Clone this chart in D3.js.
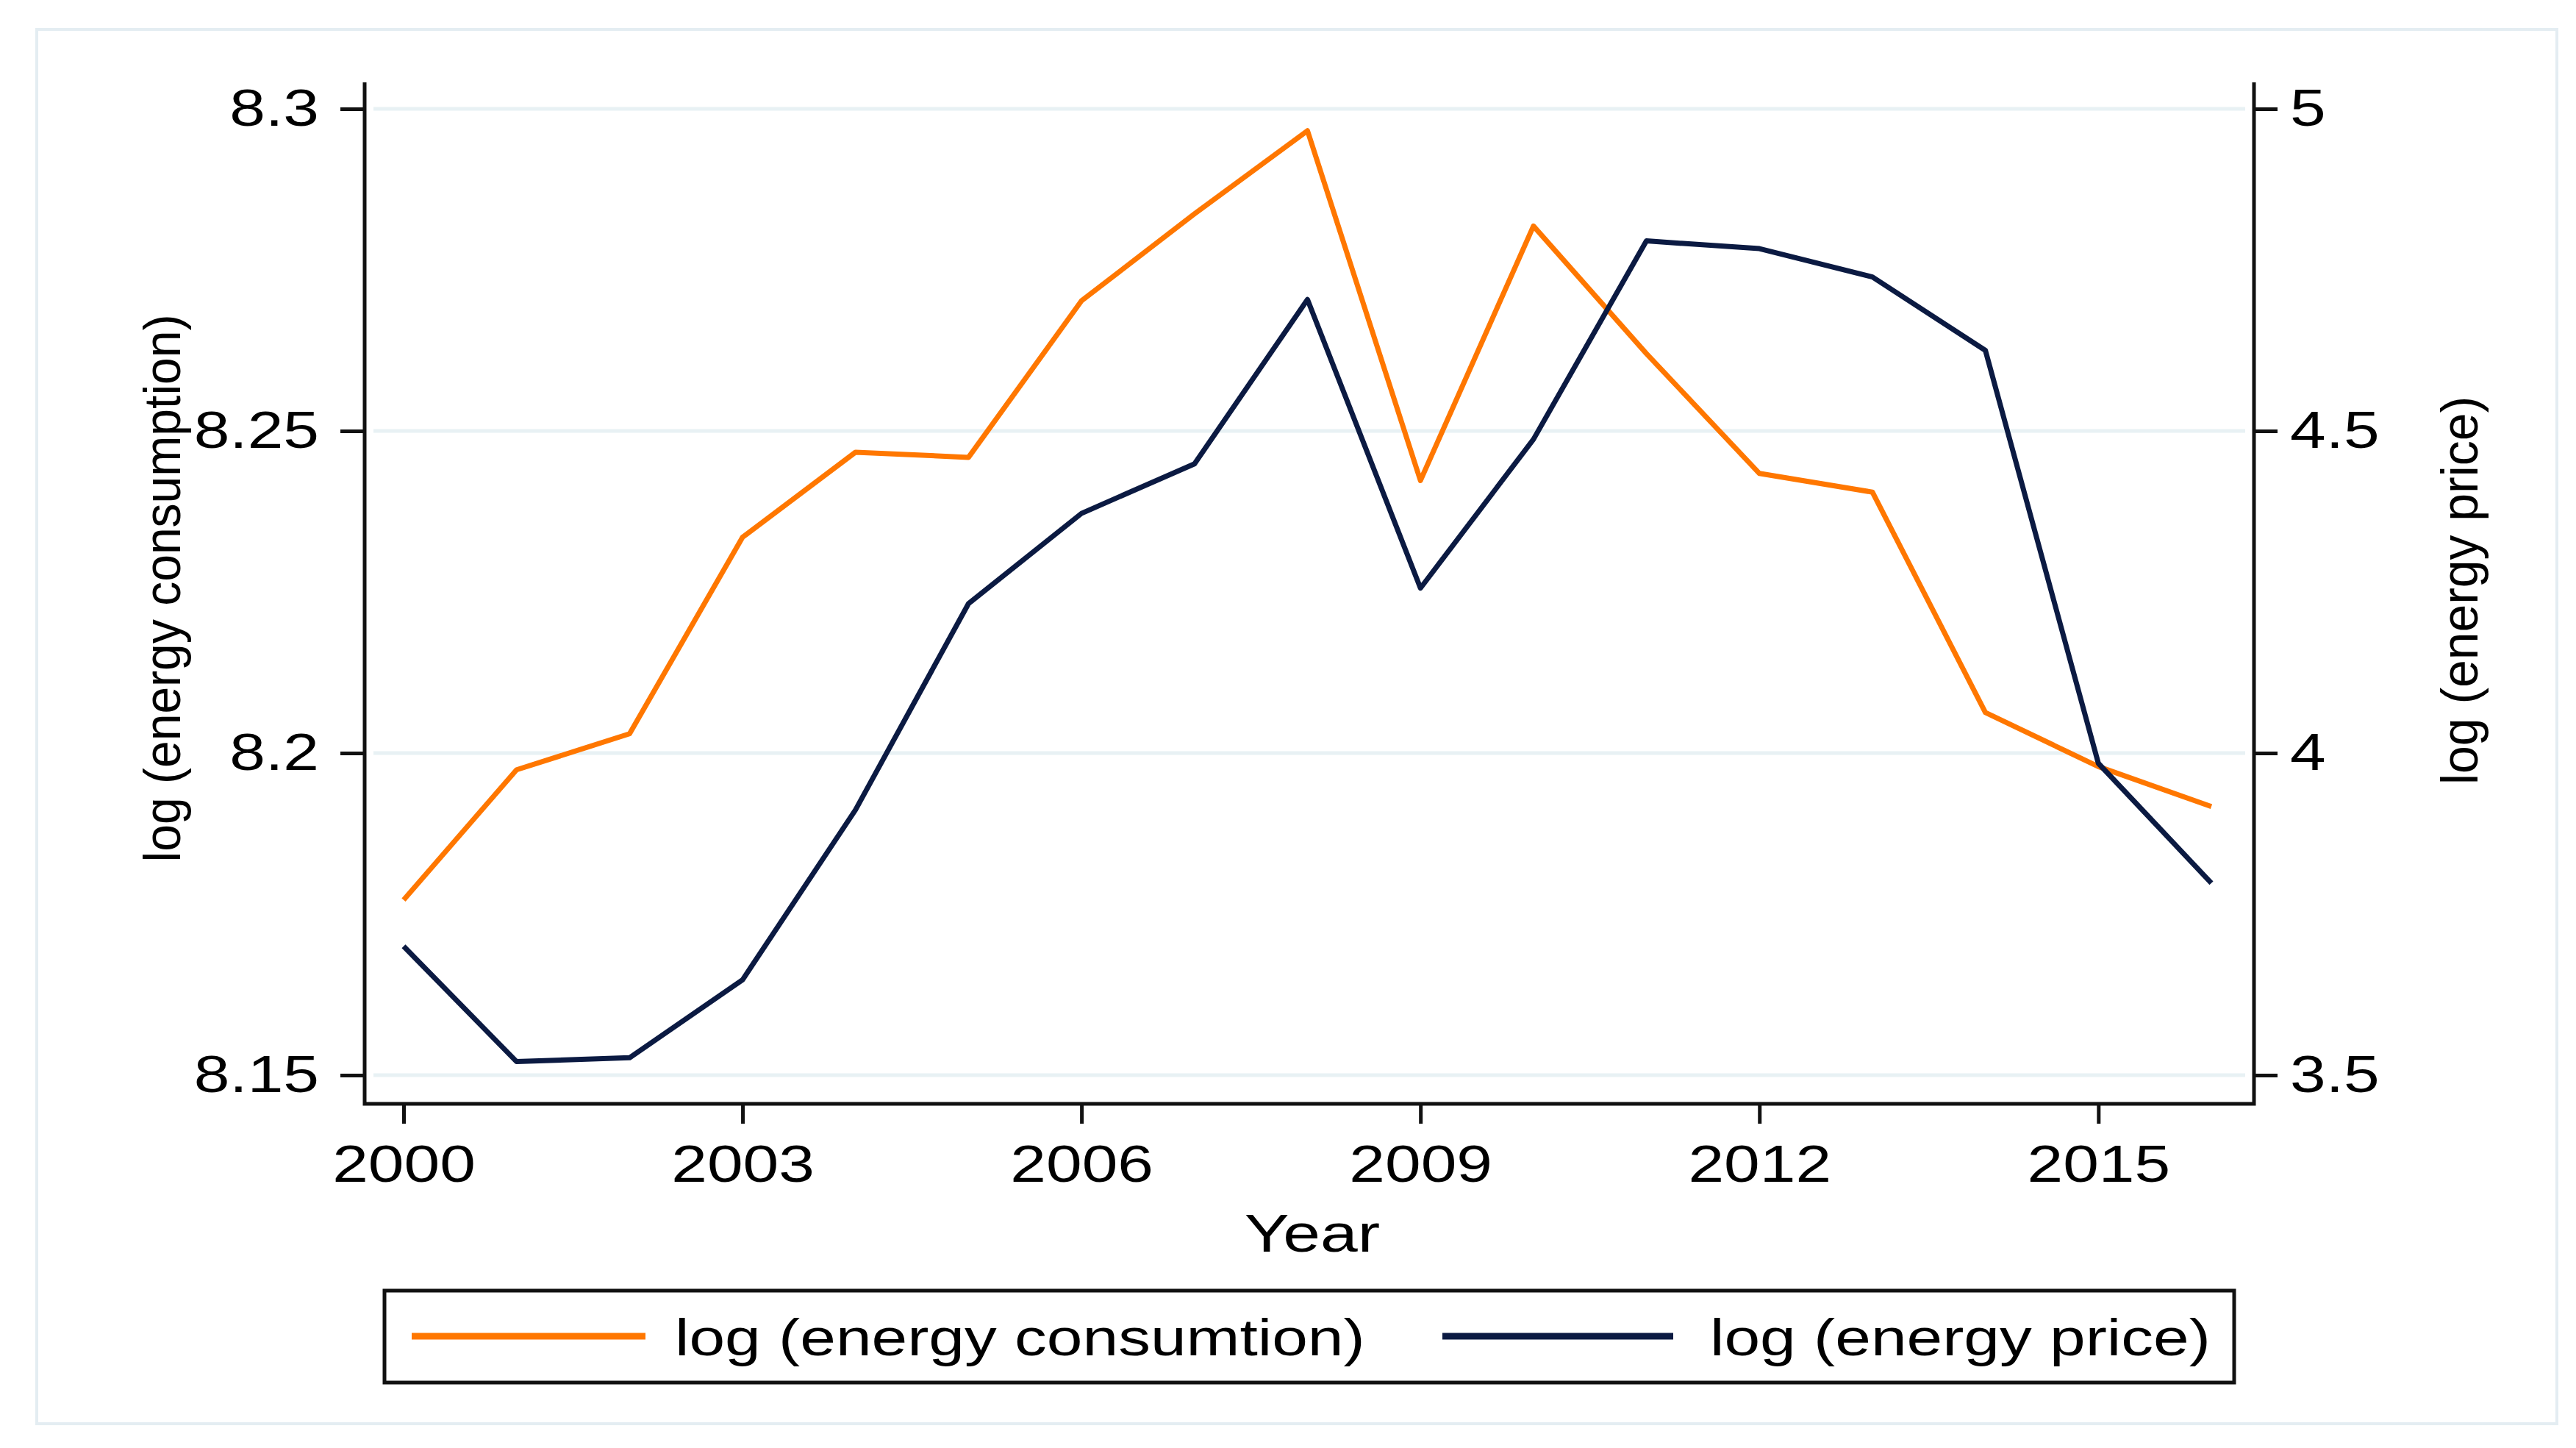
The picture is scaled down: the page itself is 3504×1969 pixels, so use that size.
<!DOCTYPE html>
<html>
    <head>
        <meta charset="utf-8">
        <script src="https://d3js.org/d3.v7.min.js"></script>
        <style>
        body { margin: 0; background: #fff; }
        text { font-family: "Liberation Sans", Arial, sans-serif; fill: #000; }
        </style>
    </head>
    <body>
        <div id="chartContainer"></div>
        <script type="text/javascript">
            // data
            var years = [2000, 2001, 2002, 2003, 2004, 2005, 2006, 2007, 2008,
                         2009, 2010, 2011, 2012, 2013, 2014, 2015, 2016];
            var consumption = [8.1772, 8.1974, 8.2030, 8.2335, 8.2467, 8.2459, 8.2702, 8.2837, 8.2966,
                               8.2423, 8.2818, 8.2620, 8.2434, 8.2405, 8.2063, 8.1979, 8.1917];
            var price = [3.700, 3.521, 3.527, 3.648, 3.912, 4.232, 4.372, 4.449, 4.704,
                         4.256, 4.487, 4.795, 4.783, 4.739, 4.625, 3.984, 3.798];
            var xTicks = [2000, 2003, 2006, 2009, 2012, 2015];
            var leftTicks = [8.15, 8.2, 8.25, 8.3];
            var rightTicks = [3.5, 4, 4.5, 5];
            var seriesNames = ["log (energy consumtion)", "log (energy price)"];
            var seriesColors = ["#ff7700", "#0b1a42"];

            var width = 3504,
                height = 1969,
                stretch = 1.25; // the picture's text is drawn a bit wide

            var svg = d3.select("#chartContainer")
                        .append("svg")
                        .attr("width", width)
                        .attr("height", height);

            // widen text like the original
            function widen(sel, k) {
                sel.each(function() {
                    var w = this.getComputedTextLength();
                    d3.select(this)
                      .attr("textLength", w * k)
                      .attr("lengthAdjust", "spacingAndGlyphs");
                });
            }

            // outer frame
            svg.append("rect")
               .attr("x", 50).attr("y", 40)
               .attr("width", 3428).attr("height", 1896)
               .attr("fill", "none")
               .attr("stroke", "#e4edf2")
               .attr("stroke-width", 4);

            var plotLeft = 496, plotRight = 3066, plotTop = 112, plotBottom = 1501;

            var x = d3.scaleLinear().domain([2000, 2016]).range([549, 3008]);
            var yL = d3.scaleLinear().domain([8.15, 8.3]).range([1462, 148]);
            var yR = d3.scaleLinear().domain([3.5, 5]).range([1462, 148]);

            // gridlines
            svg.append("g").selectAll("line")
               .data(leftTicks).enter().append("line")
               .attr("x1", plotLeft + 12).attr("x2", plotRight - 12)
               .attr("y1", function(d) { return yL(d); })
               .attr("y2", function(d) { return yL(d); })
               .attr("stroke", "#e8f1f4")
               .attr("stroke-width", 5);

            // axes
            var xAxis = svg.append("g")
               .attr("transform", "translate(0," + plotBottom + ")")
               .call(d3.axisBottom(x).tickValues(xTicks).tickFormat(d3.format("d"))
                        .tickSize(27).tickPadding(29).tickSizeOuter(0));
            xAxis.select(".domain").remove();
            xAxis.selectAll(".tick line").attr("stroke", "#111").attr("stroke-width", 5);
            xAxis.selectAll("text").style("font-size", "70px").call(widen, stretch);

            var yAxisL = svg.append("g")
               .attr("transform", "translate(" + plotLeft + ",0)")
               .call(d3.axisLeft(yL).tickValues(leftTicks).tickFormat(d3.format("~g"))
                        .tickSize(33).tickPadding(29).tickSizeOuter(0));
            yAxisL.select(".domain").remove();
            yAxisL.selectAll(".tick line").attr("stroke", "#111").attr("stroke-width", 5);
            yAxisL.selectAll("text").style("font-size", "70px").call(widen, stretch);

            var yAxisR = svg.append("g")
               .attr("transform", "translate(" + plotRight + ",0)")
               .call(d3.axisRight(yR).tickValues(rightTicks).tickFormat(d3.format("~g"))
                        .tickSize(32).tickPadding(17).tickSizeOuter(0));
            yAxisR.select(".domain").remove();
            yAxisR.selectAll(".tick line").attr("stroke", "#111").attr("stroke-width", 5);
            yAxisR.selectAll("text").style("font-size", "70px").call(widen, stretch);

            // axis lines (open frame: left, bottom, right)
            svg.append("path")
               .attr("d", "M" + plotLeft + "," + plotTop + "V" + plotBottom +
                          "H" + plotRight + "V" + plotTop)
               .attr("fill", "none")
               .attr("stroke", "#111")
               .attr("stroke-width", 5);

            // series lines
            var lineL = d3.line()
                .x(function(d, i) { return x(years[i]); })
                .y(function(d) { return yL(d); });
            var lineR = d3.line()
                .x(function(d, i) { return x(years[i]); })
                .y(function(d) { return yR(d); });

            svg.append("path").datum(consumption)
               .attr("d", lineL)
               .attr("fill", "none")
               .attr("stroke", seriesColors[0])
               .attr("stroke-width", 7)
               .attr("stroke-linejoin", "round");

            svg.append("path").datum(price)
               .attr("d", lineR)
               .attr("fill", "none")
               .attr("stroke", seriesColors[1])
               .attr("stroke-width", 7)
               .attr("stroke-linejoin", "round");

            // axis titles
            svg.append("text")
               .attr("transform", "translate(245,800) rotate(-90)")
               .style("text-anchor", "middle")
               .style("font-size", "70px")
               .attr("textLength", 745)
               .attr("lengthAdjust", "spacingAndGlyphs")
               .text("log (energy consumption)");

            svg.append("text")
               .attr("transform", "translate(3370,803) rotate(-90)")
               .style("text-anchor", "middle")
               .style("font-size", "70px")
               .attr("textLength", 528)
               .attr("lengthAdjust", "spacingAndGlyphs")
               .text("log (energy price)");

            svg.append("text")
               .attr("x", 1785).attr("y", 1702)
               .style("text-anchor", "middle")
               .style("font-size", "73px")
               .text("Year")
               .call(widen, stretch);

            // legend
            var legend = svg.append("g");
            legend.append("rect")
               .attr("x", 523).attr("y", 1755)
               .attr("width", 2516).attr("height", 125)
               .attr("fill", "#fff")
               .attr("stroke", "#111")
               .attr("stroke-width", 5);

            var legendX = [[560, 878, 918], [1962, 2276, 2326]];
            seriesNames.forEach(function(name, i) {
                legend.append("line")
                   .attr("x1", legendX[i][0]).attr("x2", legendX[i][1])
                   .attr("y1", 1817).attr("y2", 1817)
                   .attr("stroke", seriesColors[i])
                   .attr("stroke-width", 9);
                legend.append("text")
                   .attr("x", legendX[i][2]).attr("y", 1843)
                   .style("font-size", "70px")
                   .text(name)
                   .call(widen, stretch);
            });
        </script>
    </body>
</html>
